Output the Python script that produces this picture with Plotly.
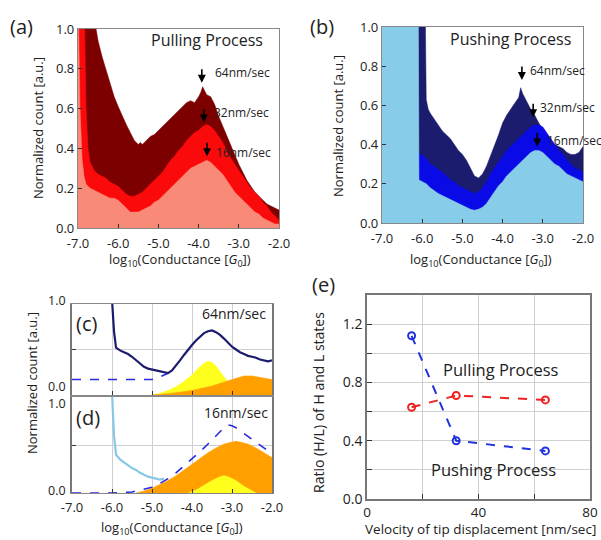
import plotly.graph_objects as go

W, H = 601, 540
FONT = "Open Sans"

# ---------------- Panel (a): pulling process ----------------
pull64_x = [-6.93, -6.6, -6.55, -6.5, -6.4, -6.3, -6.2, -6.1, -6.0, -5.9, -5.8, -5.7, -5.6, -5.5, -5.45, -5.4,
            -5.3, -5.2, -5.1, -5.0, -4.9, -4.8, -4.7, -4.6, -4.5, -4.4, -4.3, -4.2, -4.1, -4.0, -3.95, -3.9,
            -3.85, -3.8, -3.7, -3.6, -3.5, -3.4, -3.3, -3.2, -3.1, -3.0, -2.9, -2.8, -2.7, -2.6, -2.5, -2.4,
            -2.3, -2.2, -2.1, -2.0]
pull64_y = [1.2, 1.05, 1.0, 0.94, 0.86, 0.79, 0.72, 0.66, 0.61, 0.56, 0.52, 0.48, 0.44, 0.42, 0.43, 0.42,
            0.44, 0.46, 0.47, 0.49, 0.51, 0.53, 0.55, 0.57, 0.59, 0.61, 0.63, 0.64, 0.63, 0.66, 0.68, 0.71,
            0.69, 0.67, 0.66, 0.62, 0.56, 0.51, 0.46, 0.42, 0.37, 0.32, 0.28, 0.24, 0.21, 0.18, 0.16, 0.14,
            0.12, 0.11, 0.10, 0.09]

pull32_x = [-7.0, -6.85, -6.8, -6.75, -6.7, -6.6, -6.5, -6.4, -6.3, -6.2, -6.1, -6.0, -5.9, -5.8, -5.7, -5.6,
            -5.5, -5.4, -5.3, -5.2, -5.1, -5.0, -4.9, -4.8, -4.7, -4.6, -4.5, -4.4, -4.3, -4.2, -4.1, -4.0,
            -3.9, -3.8, -3.7, -3.6, -3.5, -3.4, -3.3, -3.2, -3.1, -3.0, -2.9, -2.8, -2.7, -2.6, -2.5, -2.4,
            -2.3, -2.2, -2.1, -2.0]
pull32_y = [1.2, 1.2, 0.6, 0.4, 0.33, 0.29, 0.27, 0.26, 0.25, 0.23, 0.22, 0.21, 0.19, 0.17, 0.16, 0.16,
            0.17, 0.18, 0.20, 0.22, 0.24, 0.26, 0.28, 0.31, 0.34, 0.36, 0.39, 0.41, 0.44, 0.46, 0.48, 0.49,
            0.51, 0.52, 0.51, 0.49, 0.46, 0.43, 0.39, 0.35, 0.32, 0.29, 0.26, 0.23, 0.20, 0.18, 0.16, 0.13,
            0.11, 0.08, 0.06, 0.04]

pull16_x = [-7.0, -6.95, -6.9, -6.85, -6.8, -6.7, -6.6, -6.5, -6.4, -6.3, -6.2, -6.1, -6.0, -5.9, -5.8, -5.7,
            -5.6, -5.5, -5.4, -5.3, -5.2, -5.1, -5.0, -4.9, -4.8, -4.7, -4.6, -4.5, -4.4, -4.3, -4.2, -4.1,
            -4.0, -3.9, -3.8, -3.7, -3.6, -3.5, -3.4, -3.3, -3.2, -3.1, -3.0, -2.9, -2.8, -2.7, -2.6, -2.5,
            -2.4, -2.3, -2.2, -2.1, -2.0]
pull16_y = [1.2, 0.6, 0.35, 0.26, 0.22, 0.20, 0.19, 0.18, 0.17, 0.16, 0.15, 0.15, 0.14, 0.12, 0.10, 0.08,
            0.08, 0.08, 0.09, 0.10, 0.11, 0.13, 0.14, 0.16, 0.18, 0.20, 0.22, 0.24, 0.26, 0.28, 0.30, 0.31,
            0.32, 0.33, 0.34, 0.33, 0.31, 0.29, 0.27, 0.24, 0.21, 0.18, 0.16, 0.14, 0.12, 0.10, 0.08, 0.07,
            0.05, 0.04, 0.03, 0.02, 0.02]

# ---------------- Panel (b): pushing process ----------------
push64_x = [-6.1, -5.93, -5.9, -5.85, -5.8, -5.7, -5.6, -5.5, -5.4, -5.3, -5.2, -5.1, -5.0, -4.9, -4.8, -4.7,
            -4.6, -4.5, -4.4, -4.3, -4.2, -4.1, -4.0, -3.9, -3.8, -3.7, -3.6, -3.55, -3.5, -3.4, -3.3, -3.2,
            -3.1, -3.0, -2.9, -2.8, -2.7, -2.6, -2.5, -2.4, -2.3, -2.2, -2.1, -2.0]
push64_y = [1.2, 1.2, 0.63, 0.58, 0.56, 0.53, 0.50, 0.47, 0.45, 0.43, 0.40, 0.37, 0.35, 0.32, 0.28, 0.24,
            0.23, 0.25, 0.29, 0.34, 0.39, 0.45, 0.51, 0.55, 0.58, 0.61, 0.64, 0.69, 0.66, 0.62, 0.58, 0.55,
            0.51, 0.48, 0.45, 0.42, 0.40, 0.39, 0.38, 0.36, 0.35, 0.35, 0.36, 0.39]

push32_x = [-6.1, -5.9, -5.8, -5.7, -5.6, -5.5, -5.4, -5.3, -5.2, -5.1, -5.0, -4.9, -4.8, -4.7, -4.6, -4.5,
            -4.4, -4.3, -4.2, -4.1, -4.0, -3.9, -3.8, -3.7, -3.6, -3.5, -3.4, -3.3, -3.2, -3.1, -3.0, -2.9,
            -2.8, -2.7, -2.6, -2.5, -2.4, -2.3, -2.2, -2.1, -2.0]
push32_y = [0.36, 0.33, 0.30, 0.29, 0.27, 0.26, 0.24, 0.22, 0.21, 0.19, 0.18, 0.17, 0.16, 0.15, 0.16, 0.18,
            0.21, 0.25, 0.28, 0.31, 0.34, 0.37, 0.39, 0.41, 0.43, 0.45, 0.47, 0.49, 0.50, 0.50, 0.49, 0.46,
            0.43, 0.40, 0.37, 0.35, 0.32, 0.30, 0.28, 0.27, 0.26]

push16_x = [-7.0, -6.1, -6.08, -5.9, -5.8, -5.7, -5.6, -5.5, -5.4, -5.3, -5.2, -5.1, -5.0, -4.9, -4.8, -4.7,
            -4.6, -4.5, -4.4, -4.3, -4.2, -4.1, -4.0, -3.9, -3.8, -3.7, -3.6, -3.5, -3.4, -3.3, -3.2, -3.1,
            -3.0, -2.9, -2.8, -2.7, -2.6, -2.5, -2.4, -2.3, -2.2, -2.1, -2.0]
push16_y = [1.2, 1.2, 0.22, 0.20, 0.18, 0.165, 0.15, 0.14, 0.13, 0.12, 0.11, 0.10, 0.09, 0.08, 0.07, 0.065,
            0.07, 0.08, 0.10, 0.13, 0.16, 0.19, 0.21, 0.24, 0.26, 0.28, 0.30, 0.32, 0.34, 0.36, 0.37, 0.37,
            0.36, 0.34, 0.32, 0.30, 0.29, 0.27, 0.25, 0.24, 0.23, 0.22, 0.21]

# ---------------- Panel (c): 64 nm/sec fit ----------------
c_data_x = [-6.0, -5.95, -5.9, -5.8, -5.7, -5.6, -5.5, -5.4, -5.3, -5.2, -5.1, -5.0, -4.9, -4.8, -4.7, -4.6,
            -4.5, -4.4, -4.3, -4.2, -4.1, -4.0, -3.9, -3.8, -3.7, -3.6, -3.5, -3.4, -3.3, -3.2, -3.1, -3.0,
            -2.9, -2.8, -2.7, -2.6, -2.5, -2.4, -2.3, -2.2, -2.1, -2.0]
c_data_y = [1.05, 0.70, 0.52, 0.49, 0.47, 0.45, 0.42, 0.38, 0.34, 0.31, 0.29, 0.28, 0.27, 0.26, 0.25, 0.24,
            0.27, 0.32, 0.38, 0.44, 0.50, 0.55, 0.60, 0.64, 0.68, 0.70, 0.71, 0.69, 0.66, 0.62, 0.57, 0.53,
            0.50, 0.47, 0.45, 0.43, 0.42, 0.41, 0.39, 0.38, 0.37, 0.38]
c_fit_x = [-7.0, -6.0, -5.0, -4.9, -4.8, -4.7, -4.6]
c_fit_y = [0.17, 0.17, 0.17, 0.18, 0.20, 0.22, 0.24]
c_high_x = [-5.0, -4.8, -4.6, -4.4, -4.2, -4.0, -3.9, -3.8, -3.7, -3.6, -3.5, -3.4, -3.3, -3.2, -3.1, -3.0, -2.9]
c_high_y = [0.0, 0.02, 0.05, 0.09, 0.15, 0.22, 0.27, 0.31, 0.35, 0.37, 0.36, 0.32, 0.26, 0.19, 0.13, 0.07, 0.02]
c_low_x = [-5.0, -4.5, -4.0, -3.5, -3.0, -2.7, -2.5, -2.2, -2.0]
c_low_y = [0.0, 0.02, 0.05, 0.10, 0.17, 0.21, 0.21, 0.19, 0.17]

# ---------------- Panel (d): 16 nm/sec fit ----------------
d_data_x = [-6.0, -5.95, -5.9, -5.8, -5.7, -5.6, -5.5, -5.4, -5.3, -5.2, -5.1, -5.0, -4.9, -4.8, -4.7]
d_data_y = [1.05, 0.60, 0.40, 0.35, 0.32, 0.29, 0.26, 0.24, 0.21, 0.19, 0.17, 0.16, 0.15, 0.14, 0.15]
d_fit_x = [-7.0, -6.0, -5.5, -5.3, -5.1, -5.0, -4.8, -4.6, -4.4, -4.2, -4.0, -3.8, -3.6, -3.4, -3.2, -3.1,
           -3.0, -2.9, -2.8, -2.6, -2.4, -2.2, -2.0]
d_fit_y = [0.0, 0.0, 0.01, 0.03, 0.05, 0.06, 0.10, 0.15, 0.21, 0.28, 0.36, 0.43, 0.51, 0.60, 0.68, 0.71,
           0.70, 0.68, 0.65, 0.59, 0.53, 0.47, 0.41]
d_low_x = [-5.4, -5.2, -5.0, -4.8, -4.6, -4.4, -4.2, -4.0, -3.8, -3.6, -3.4, -3.2, -3.0, -2.9, -2.8, -2.6,
           -2.4, -2.2, -2.0]
d_low_y = [0.0, 0.02, 0.05, 0.09, 0.13, 0.18, 0.24, 0.30, 0.36, 0.42, 0.47, 0.51, 0.53, 0.54, 0.53, 0.51,
           0.47, 0.42, 0.37]
d_high_x = [-4.1, -3.9, -3.7, -3.5, -3.3, -3.2, -3.1, -2.9, -2.7, -2.5, -2.4]
d_high_y = [0.0, 0.03, 0.08, 0.13, 0.17, 0.18, 0.17, 0.13, 0.07, 0.02, 0.0]

# ---------------- Panel (e): H/L ratio ----------------
velocity = [16, 32, 64]
ratio_pull = [0.63, 0.71, 0.68]
ratio_push = [1.12, 0.40, 0.33]

cond_ticks = [-7, -6, -5, -4, -3, -2]
cond_ticklabels = ["-7.0", "-6.0", "-5.0", "-4.0", "-3.0", "-2.0"]

C_DARKRED, C_RED, C_SALMON = "#7d0000", "#fa0a0a", "#fa8a78"
C_NAVY, C_BLUE, C_SKY = "#1c1c6e", "#0a0ae6", "#87cde9"
C_YELLOW, C_ORANGE = "#ffff1e", "#ffa000"


def px(x, y):
    return x / W, 1 - y / H


fig = go.Figure()


def area(x, y, color, xa, ya):
    fig.add_trace(go.Scatter(x=x, y=y, mode="lines", fill="tozeroy", fillcolor=color,
                             line=dict(color=color, width=0.5), xaxis=xa, yaxis=ya,
                             hoverinfo="skip", showlegend=False))


def line(x, y, color, width, dash, xa, ya):
    fig.add_trace(go.Scatter(x=x, y=y, mode="lines", line=dict(color=color, width=width, dash=dash),
                             xaxis=xa, yaxis=ya, hoverinfo="skip", showlegend=False))


# (a)
area(pull64_x, pull64_y, C_DARKRED, "x", "y")
area(pull32_x, pull32_y, C_RED, "x", "y")
area(pull16_x, pull16_y, C_SALMON, "x", "y")
# (b)
area(push64_x, push64_y, C_NAVY, "x2", "y2")
area(push32_x, push32_y, C_BLUE, "x2", "y2")
area(push16_x, push16_y, C_SKY, "x2", "y2")
# (c)
area(c_high_x, c_high_y, C_YELLOW, "x3", "y3")
area(c_low_x, c_low_y, C_ORANGE, "x3", "y3")
line(c_fit_x, c_fit_y, "#2a2ae0", 1.6, "dash", "x3", "y3")
line(c_data_x, c_data_y, C_NAVY, 2.2, "solid", "x3", "y3")
# (d)
area(d_low_x, d_low_y, C_ORANGE, "x4", "y4")
area(d_high_x, d_high_y, C_YELLOW, "x4", "y4")
line(d_data_x, d_data_y, "#87c8e6", 2.2, "solid", "x4", "y4")
line(d_fit_x, d_fit_y, "#2a2ae0", 1.6, "dash", "x4", "y4")
# (e)
fig.add_trace(go.Scatter(x=velocity, y=ratio_pull, mode="lines+markers",
                         line=dict(color="#ee2222", width=2, dash="dash"),
                         marker=dict(symbol="circle-open", size=7, color="#ee2222", line=dict(width=2)),
                         xaxis="x5", yaxis="y5", showlegend=False, hoverinfo="skip"))
fig.add_trace(go.Scatter(x=velocity, y=ratio_push, mode="lines+markers",
                         line=dict(color="#2233dd", width=2, dash="dash"),
                         marker=dict(symbol="circle-open", size=7, color="#2233dd", line=dict(width=2)),
                         xaxis="x5", yaxis="y5", showlegend=False, hoverinfo="skip"))

tickfont = dict(family=FONT, size=13, color="#222")


def cond_xaxis(dom, anchor, labels=True, grid=False, standoff=0):
    return dict(domain=dom, anchor=anchor, range=[-7, -2], tickvals=cond_ticks,
                ticktext=cond_ticklabels if labels else [""] * 6, ticks="inside", ticklen=4,
                tickcolor="#333", showline=True, mirror=True, linecolor="#888", linewidth=1.2,
                showgrid=grid, gridcolor="#cfcfcf", zeroline=False, tickfont=tickfont,
                automargin=False, ticklabelstandoff=standoff)


xa_a = px(78, 0)[0], px(279, 0)[0]
ya_a = px(0, 228)[1], px(0, 29)[1]
xa_b = px(382, 0)[0], px(583, 0)[0]
ya_b = px(0, 223)[1], px(0, 27)[1]
xa_c = px(72, 0)[0], px(272, 0)[0]
ya_c = px(0, 395)[1], px(0, 304)[1]
ya_d = px(0, 493)[1], px(0, 397)[1]
xa_e = px(367, 0)[0], px(590, 0)[0]
ya_e = px(0, 499)[1], px(0, 295)[1]

fig.update_layout(
    width=W, height=H, margin=dict(l=0, r=0, t=0, b=0, autoexpand=False),
    paper_bgcolor="white", plot_bgcolor="white",
    font=dict(family=FONT, size=13, color="#222"),
    xaxis=cond_xaxis(list(xa_a), "y", standoff=3),
    yaxis=dict(domain=list(ya_a), anchor="x", range=[0, 1], dtick=0.2, tickformat=".1f",
               ticks="inside", ticklen=4, tickcolor="#333", showline=True, mirror=True,
               linecolor="#888", linewidth=1.2, showgrid=False, zeroline=False, tickfont=tickfont,
               automargin=False),
    xaxis2=cond_xaxis(list(xa_b), "y2", standoff=3),
    yaxis2=dict(domain=list(ya_b), anchor="x2", range=[0, 1], dtick=0.2, tickformat=".1f",
                ticks="inside", ticklen=4, tickcolor="#333", showline=True, mirror=True,
                linecolor="#888", linewidth=1.2, showgrid=False, zeroline=False, tickfont=tickfont,
                automargin=False),
    xaxis3=cond_xaxis(list(xa_c), "y3", labels=False, grid=True),
    yaxis3=dict(domain=list(ya_c), anchor="x3", range=[0, 1], tickvals=[0, 0.5, 1],
                ticktext=["", "", ""], ticks="inside", ticklen=4, tickcolor="#333",
                showline=True, mirror=True, linecolor="#777", linewidth=1.5, showgrid=True,
                gridcolor="#cfcfcf", zeroline=False, tickfont=tickfont, automargin=False),
    xaxis4=cond_xaxis(list(xa_c), "y4", labels=True, grid=True, standoff=2),
    yaxis4=dict(domain=list(ya_d), anchor="x4", range=[0, 1], tickvals=[0, 0.5, 1],
                ticktext=["", "", ""], ticks="inside", ticklen=4, tickcolor="#333",
                showline=True, mirror=True, linecolor="#777", linewidth=1.5, showgrid=True,
                gridcolor="#cfcfcf", zeroline=False, tickfont=tickfont, automargin=False),
    xaxis5=dict(domain=list(xa_e), anchor="y5", range=[0, 80], tickvals=[0, 20, 40, 60, 80],
                ticktext=["0", "", "40", "", "80"], ticks="inside", ticklen=5, tickcolor="#333",
                showline=True, mirror=True, linecolor="#777", linewidth=1.5, showgrid=True,
                gridcolor="#d0d0d0", zeroline=False, tickfont=dict(family=FONT, size=13.5, color="#222"),
                automargin=False),
    yaxis5=dict(domain=list(ya_e), anchor="x5", range=[0, 1.4],
                tickvals=[0, 0.2, 0.4, 0.6, 0.8, 1.0, 1.2, 1.4],
                ticktext=["0.0", "", "0.4", "", "0.8", "", "1.2", ""], ticks="inside", ticklen=5,
                tickcolor="#333", showline=True, mirror=True, linecolor="#777", linewidth=1.5,
                showgrid=True, gridcolor="#d0d0d0", zeroline=False,
                tickfont=dict(family=FONT, size=14, color="#222"), automargin=False),
)

ann = []


def ptext(x, y, text, size, xanchor="left", angle=0, color="#222"):
    fx, fy = px(x, y)
    ann.append(dict(x=fx, y=fy, xref="paper", yref="paper", text=text, showarrow=False,
                    xanchor=xanchor, yanchor="middle", textangle=angle,
                    font=dict(family=FONT, size=size, color=color)))


def dtext(x, y, text, size, xa, ya, xanchor="left"):
    ann.append(dict(x=x, y=y, xref=xa, yref=ya, text=text, showarrow=False, xanchor=xanchor,
                    yanchor="middle", font=dict(family=FONT, size=size, color="#222")))


def arrow(x, y, xa, ya):
    ann.append(dict(x=x, y=y, xref=xa, yref=ya, text="", showarrow=True, arrowhead=2, arrowsize=1,
                    arrowwidth=1.6, arrowcolor="black", ax=0, ay=-15, standoff=0))


# panel letters
ptext(8, 26, "(a)", 20)
ptext(308, 26, "(b)", 20)
ptext(74, 323, "(c)", 20)
ptext(74, 417, "(d)", 20)
ptext(310, 284, "(e)", 20)

# titles inside (a)/(b)
ptext(149, 40, "Pulling Process", 16)
ptext(448, 39, "Pushing Process", 16)

# arrows (a)
arrow(-3.92, 0.73, "x", "y")
dtext(-3.64, 0.78, "64nm/sec", 12, "x", "y")
arrow(-3.87, 0.53, "x", "y")
dtext(-3.66, 0.58, "32nm/sec", 12, "x", "y")
arrow(-3.79, 0.36, "x", "y")
dtext(-3.62, 0.38, "16nm/sec", 12, "x", "y")
# arrows (b)
arrow(-3.52, 0.73, "x2", "y2")
dtext(-3.37, 0.78, "64nm/sec", 12, "x2", "y2")
arrow(-3.24, 0.54, "x2", "y2")
dtext(-3.12, 0.59, "32nm/sec", 12, "x2", "y2")
arrow(-3.14, 0.39, "x2", "y2")
dtext(-2.95, 0.42, "16nm/sec", 12, "x2", "y2")

# (c)/(d) speed labels
ptext(200, 313, "64nm/sec", 14)
ptext(202, 412, "16nm/sec", 14)

# (c)/(d) y tick labels (offset as in the reference)
ptext(68, 300, "1.0", 12.5, xanchor="right")
ptext(68, 386, "0.0", 12.5, xanchor="right")
ptext(68, 403, "1.0", 12.5, xanchor="right")
ptext(68, 490, "0.0", 12.5, xanchor="right")

# (e) labels
dtext(48.0, 0.89, "Pulling Process", 16.5, "x5", "y5", xanchor="center")
dtext(45.5, 0.20, "Pushing Process", 16.5, "x5", "y5", xanchor="center")

# axis titles
xlabel = "log<sub>10</sub>(Conductance [<i>G</i><sub>0</sub>])"
ptext(180, 260, xlabel, 13, xanchor="center")
ptext(481, 260, xlabel, 13, xanchor="center")
ptext(172, 528, xlabel, 13, xanchor="center")
ptext(480, 529, "Velocity of tip displacement [nm/sec]", 13.5, xanchor="center")
ptext(38, 128, "Normalized count [a.u.]", 13, xanchor="center", angle=-90)
ptext(338, 126, "Normalized count [a.u.]", 13, xanchor="center", angle=-90)
ptext(32, 383, "Normalized count [a.u.]", 13, xanchor="center", angle=-90)
ptext(318, 403, "Ratio (H/L) of H and L states", 14, xanchor="center", angle=-90)

fig.update_layout(annotations=ann)
fig.write_html("out.html", config={"displayModeBar": False},
               post_script="document.body.style.margin='0';document.body.style.padding='0';"
                           "document.body.style.overflow='hidden';")
